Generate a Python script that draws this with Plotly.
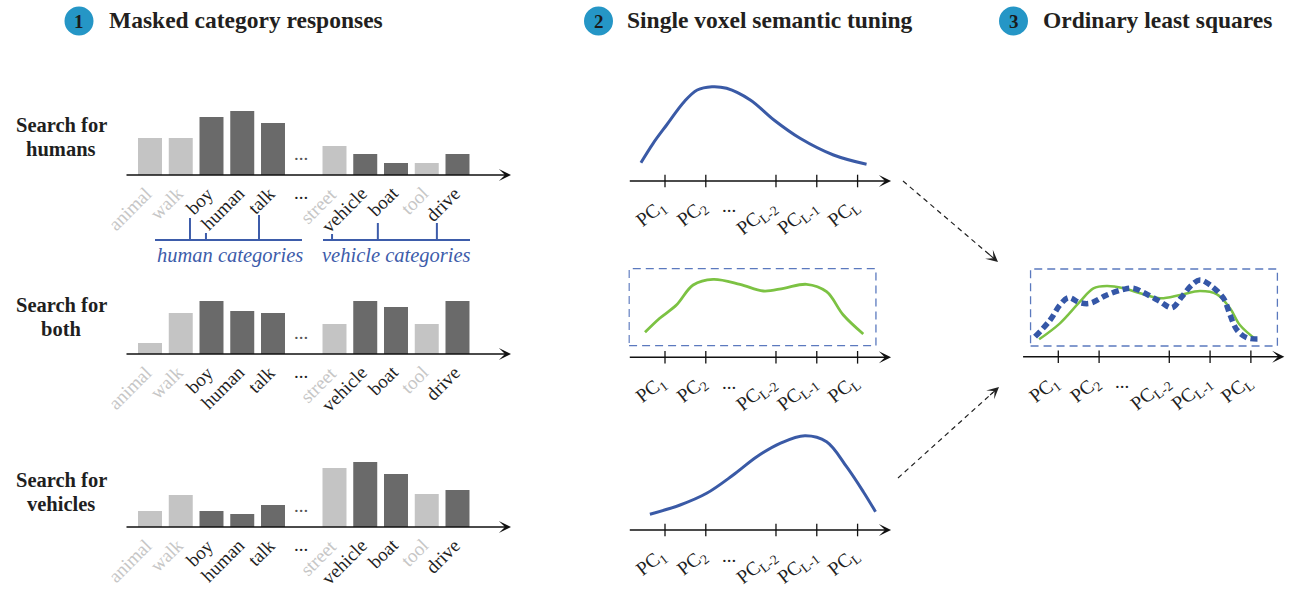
import plotly.graph_objects as go

W, H = 1291, 590

# ---------------- data ----------------
categories = ["animal", "walk", "boy", "human", "talk", "street", "vehicle", "boat", "tool", "drive"]
category_slots = [0, 1, 2, 3, 4, 6, 7, 8, 9, 10]
masked = [1, 1, 0, 0, 0, 1, 0, 0, 1, 0]
resp_humans = [37, 37, 58, 64, 52, 29, 21, 12, 12, 21]
resp_both = [11, 41, 53, 43, 41, 30, 53, 47, 30, 53]
resp_vehicles = [16, 32, 16, 13, 22, 59, 65, 53, 33, 37]
row_labels = [["Search for", "humans"], ["Search for", "both"], ["Search for", "vehicles"]]
group_labels = ["human categories", "vehicle categories"]

pc_labels = ["PC<sub>1</sub>", "PC<sub>2</sub>", "PC<sub>L-2</sub>", "PC<sub>L-1</sub>", "PC<sub>L</sub>"]
pc_slots = [1, 2, 3.72, 4.72, 5.72]

tuning_humans_x = [0.41, 0.71, 1.04, 1.47, 1.79, 2.15, 2.51, 3.09, 3.67, 4.31, 5.13, 5.94]
tuning_humans_y = [18.3, 37.7, 56, 79.3, 91, 94.3, 92.7, 81, 61, 42.7, 26, 16.7]
tuning_both_x = [0.51, 0.87, 1.28, 1.69, 2.18, 2.84, 3.41, 3.91, 4.47, 4.96, 5.37, 5.86]
tuning_both_y = [25, 39, 52.3, 72.3, 78, 73, 66.3, 69, 73, 65.6, 42.3, 23.3]
tuning_vehicles_x = [0.63, 1.37, 2.02, 2.67, 3.25, 3.82, 4.43, 4.96, 5.45, 5.86, 6.16]
tuning_vehicles_y = [15.7, 25, 36.7, 55, 73.3, 86.7, 94.3, 88.3, 63.3, 38.3, 18.3]
ols_target_x = [0.53, 1.04, 1.53, 1.86, 2.19, 2.6, 3.09, 3.5, 3.99, 4.47, 4.89, 5.21, 5.45, 5.86]
ols_target_y = [17.4, 33.4, 55, 68.4, 70.7, 68.4, 62.4, 58.4, 61.7, 65.7, 62.4, 48.4, 31.7, 16.7]
ols_fit_x = [0.43, 0.80, 1.04, 1.25, 1.53, 1.78, 2.19, 2.6, 2.84, 3.17, 3.5, 3.78, 4.03, 4.27,
             4.47, 4.72, 5.05, 5.21, 5.38, 5.62, 5.91]
ols_fit_y = [20, 36.7, 51.7, 59, 54, 53.4, 61.7, 67.4, 68.4, 62.4, 55, 49, 60, 71.7,
             76.7, 71.7, 58.4, 41.7, 26.7, 19, 17.7]

titles = ["Masked category responses", "Single voxel semantic tuning", "Ordinary least squares"]
title_numbers = ["1", "2", "3"]

# ---------------- layout constants ----------------
DARK = "#6a6a6a"
LIGHT = "#c4c4c4"
LIGHT_TXT = "#c6c6c6"
INK = "#1f1f1f"
BLUE = "#3a5aa6"
GREEN = "#7cc243"
BRACKET = "#3d5caa"
BOX = "#5b79be"
CIRCLE = "#2596c6"
FONT = "Liberation Serif"

P1_X = (125, 511)
P1_RANGE = [-0.813, 11.74]
P1_BASE = [175, 354, 527]
BAR_AREA = 72
BAR_WIDTH = 0.78
ROW_LABEL_Y = [(125, 149), (305, 329), (480, 504)]
GAP_SLOT = 4.91

PC_RANGE = [0.1, 6.54]
PC_UNIT = 40.8
P2_ORIGIN = 624.2
P3_ORIGIN = 1017.5
P2_BASE = [181, 357.3, 530]
P3_BASE = 356.7
CURVE_AREA = 100
PC_GAP_SLOT = 2.57

TITLE_CIRCLES = [79, 598.5, 1013.5]
TITLE_TEXT_X = [107, 625, 1041]
TITLE_Y = 21


def xdom(p0, p1):
    return [p0 / W, p1 / W]


def ydom(top, bottom):
    return [1 - bottom / H, 1 - top / H]


def ref(i, kind):
    return kind + ("" if i == 1 else str(i))


def axkey(i, kind):
    return kind + "axis" + ("" if i == 1 else str(i))


fig = go.Figure()
layout = dict(
    width=W, height=H, margin=dict(l=0, r=0, t=0, b=0),
    paper_bgcolor="white", plot_bgcolor="rgba(0,0,0,0)", showlegend=False,
    font=dict(family=FONT, color=INK),
)
annotations, shapes = [], []


def axis_arrow(xa, ya, x0, x1):
    annotations.append(dict(xref=xa, yref=ya, axref=xa, ayref=ya, x=x1, y=0, ax=x0, ay=0,
                            text="", showarrow=True, arrowhead=3, arrowsize=1.35,
                            arrowwidth=1.5, arrowcolor="#111"))


def slanted_label(xa, ya, x, text, angle, color, xshift, yshift, size=19):
    annotations.append(dict(xref=xa, yref=ya, x=x, y=0, text=text, textangle=angle,
                            xanchor="right", yanchor="top", xshift=xshift, yshift=yshift,
                            showarrow=False, font=dict(size=size, color=color, family=FONT)))


# ---------------- Panel 1: bars ----------------
rows = [resp_humans, resp_both, resp_vehicles]
for r, vals in enumerate(rows):
    i = r + 1
    xa, ya = ref(i, "x"), ref(i, "y")
    fig.add_trace(go.Bar(x=category_slots, y=vals, width=BAR_WIDTH,
                         marker=dict(color=[LIGHT if m else DARK for m in masked], line_width=0),
                         xaxis=xa, yaxis=ya, hoverinfo="skip"))
    layout[axkey(i, "x")] = dict(domain=xdom(*P1_X), range=P1_RANGE, anchor=ya, visible=False)
    layout[axkey(i, "y")] = dict(domain=ydom(P1_BASE[r] - BAR_AREA, P1_BASE[r]),
                                 range=[0, BAR_AREA], anchor=xa, visible=False)
    axis_arrow(xa, ya, P1_RANGE[0], P1_RANGE[1])
    for c, s, m in zip(categories, category_slots, masked):
        slanted_label(xa, ya, s, c, -45, LIGHT_TXT if m else INK, 9, -5)
    # dots between the two groups
    annotations.append(dict(xref=xa, yref=ya, x=GAP_SLOT, y=22, text="...", showarrow=False,
                            font=dict(size=19, color="#555")))
    annotations.append(dict(xref=xa, yref=ya, x=GAP_SLOT, y=0, yshift=-17, text="...",
                            showarrow=False, font=dict(size=19, color=INK)))
    # row label
    for line, yy in zip(row_labels[r], ROW_LABEL_Y[r]):
        annotations.append(dict(xref="paper", yref="paper", x=61 / W, y=1 - yy / H,
                                text="<b>%s</b>" % line, showarrow=False,
                                xanchor="center", yanchor="middle",
                                font=dict(size=20.5, color=INK)))

# brackets under the first row
layout["xaxis4"] = dict(domain=xdom(*P1_X), range=P1_RANGE, anchor="y4", visible=False)
layout["yaxis4"] = dict(domain=ydom(205, 270), range=[65, 0], anchor="x4", visible=False)
BR_LINE_Y = 35
brackets = [
    dict(span=[0.163, 4.943], ticks=[1.30, 1.82, 3.545], tops=[13, 28, 10], text_x=2.60),
    dict(span=[5.626, 10.407], ticks=[5.92, 7.41, 9.33], tops=[29, 18, 18], text_x=8.03),
]
for b, label in zip(brackets, group_labels):
    xs, ys = list(b["span"]), [BR_LINE_Y, BR_LINE_Y]
    for t, top in zip(b["ticks"], b["tops"]):
        xs += [None, t, t]
        ys += [None, top, BR_LINE_Y]
    fig.add_trace(go.Scatter(x=xs, y=ys, mode="lines", line=dict(color=BRACKET, width=2),
                             xaxis="x4", yaxis="y4", hoverinfo="skip"))
    annotations.append(dict(xref="x4", yref="y4", x=b["text_x"], y=51, text="<i>%s</i>" % label,
                            showarrow=False, font=dict(size=20.5, color=BRACKET)))

# ---------------- Panels 2 and 3: tuning curves ----------------
curve_axes = [
    (5, P2_ORIGIN, P2_BASE[0]),
    (6, P2_ORIGIN, P2_BASE[1]),
    (7, P2_ORIGIN, P2_BASE[2]),
    (8, P3_ORIGIN, P3_BASE),
]
for i, origin, base in curve_axes:
    xa, ya = ref(i, "x"), ref(i, "y")
    layout[axkey(i, "x")] = dict(
        domain=xdom(origin + PC_RANGE[0] * PC_UNIT, origin + PC_RANGE[1] * PC_UNIT),
        range=PC_RANGE, anchor=ya, visible=False)
    layout[axkey(i, "y")] = dict(domain=ydom(base - CURVE_AREA, base), range=[0, CURVE_AREA],
                                 anchor=xa, visible=False)
    axis_arrow(xa, ya, PC_RANGE[0], PC_RANGE[1])
    fig.add_trace(go.Scatter(x=pc_slots, y=[0] * len(pc_slots), mode="markers",
                             marker=dict(symbol="line-ns-open", size=9, color="#111",
                                         line=dict(color="#111", width=1.3)),
                             cliponaxis=False, xaxis=xa, yaxis=ya, hoverinfo="skip"))
    for s, lab in zip(pc_slots, pc_labels):
        slanted_label(xa, ya, s, lab, -38, INK, 9, -11, size=19.5)
    annotations.append(dict(xref=xa, yref=ya, x=PC_GAP_SLOT, y=0, yshift=-25, text="...",
                            showarrow=False, font=dict(size=19, color=INK)))


def curve(x, y, i, color, width, dash="solid"):
    fig.add_trace(go.Scatter(x=x, y=y, mode="lines",
                             line=dict(color=color, width=width, shape="spline",
                                       smoothing=1.0, dash=dash),
                             xaxis=ref(i, "x"), yaxis=ref(i, "y"), hoverinfo="skip"))


curve(tuning_humans_x, tuning_humans_y, 5, BLUE, 3)
curve(tuning_both_x, tuning_both_y, 6, GREEN, 2.8)
curve(tuning_vehicles_x, tuning_vehicles_y, 7, BLUE, 3)
curve(ols_target_x, ols_target_y, 8, GREEN, 2.5)
curve(ols_fit_x, ols_fit_y, 8, "#3557a7", 5.5, dash="7px,4px")

# dashed boxes
for i, (x0, x1, y0, y1) in [(6, (0.12, 6.17, 11.6, 88.6)), (8, (0.32, 6.37, 10.7, 87.7))]:
    shapes.append(dict(type="rect", xref=ref(i, "x"), yref=ref(i, "y"), x0=x0, x1=x1, y0=y0, y1=y1,
                       line=dict(color=BOX, width=1.3, dash="8px,5px"), layer="below"))

# dashed connector arrows (paper coordinates in pixels)
connectors = [((903, 181), (998, 262)), ((898, 478), (999, 387))]
for (tx, ty), (hx, hy) in connectors:
    dx, dy = hx - tx, hy - ty
    L = (dx * dx + dy * dy) ** 0.5
    ux, uy = dx / L, dy / L
    shapes.append(dict(type="line", xref="paper", yref="paper",
                       x0=tx / W, y0=1 - ty / H, x1=(hx - 8 * ux) / W, y1=1 - (hy - 8 * uy) / H,
                       line=dict(color="#222", width=1.2, dash="5px,4px")))
    annotations.append(dict(xref="paper", yref="paper", x=hx / W, y=1 - hy / H,
                            ax=-14 * ux, ay=-14 * uy, text="", showarrow=True,
                            arrowhead=3, arrowsize=1.8, arrowwidth=1.1, arrowcolor="#222"))

# ---------------- titles ----------------
R = 14.5
for cx, tx, num, title in zip(TITLE_CIRCLES, TITLE_TEXT_X, title_numbers, titles):
    shapes.append(dict(type="circle", xref="paper", yref="paper",
                       x0=(cx - R) / W, x1=(cx + R) / W,
                       y0=1 - (TITLE_Y + R) / H, y1=1 - (TITLE_Y - R) / H,
                       fillcolor=CIRCLE, line=dict(width=0)))
    annotations.append(dict(xref="paper", yref="paper", x=cx / W, y=1 - (TITLE_Y + 1) / H,
                            text="<b>%s</b>" % num, showarrow=False, xanchor="center",
                            yanchor="middle", font=dict(size=19, color="#1a1a1a")))
    annotations.append(dict(xref="paper", yref="paper", x=tx / W, y=1 - (TITLE_Y - 1) / H,
                            text="<b>%s</b>" % title, showarrow=False, xanchor="left",
                            yanchor="middle", font=dict(size=23.5, color="#231f20")))

layout["annotations"] = annotations
layout["shapes"] = shapes
fig.update_layout(**layout)
fig.write_html("out.html", config={"displayModeBar": False},
               post_script="document.body.style.margin='0';document.body.style.overflow='hidden';")
